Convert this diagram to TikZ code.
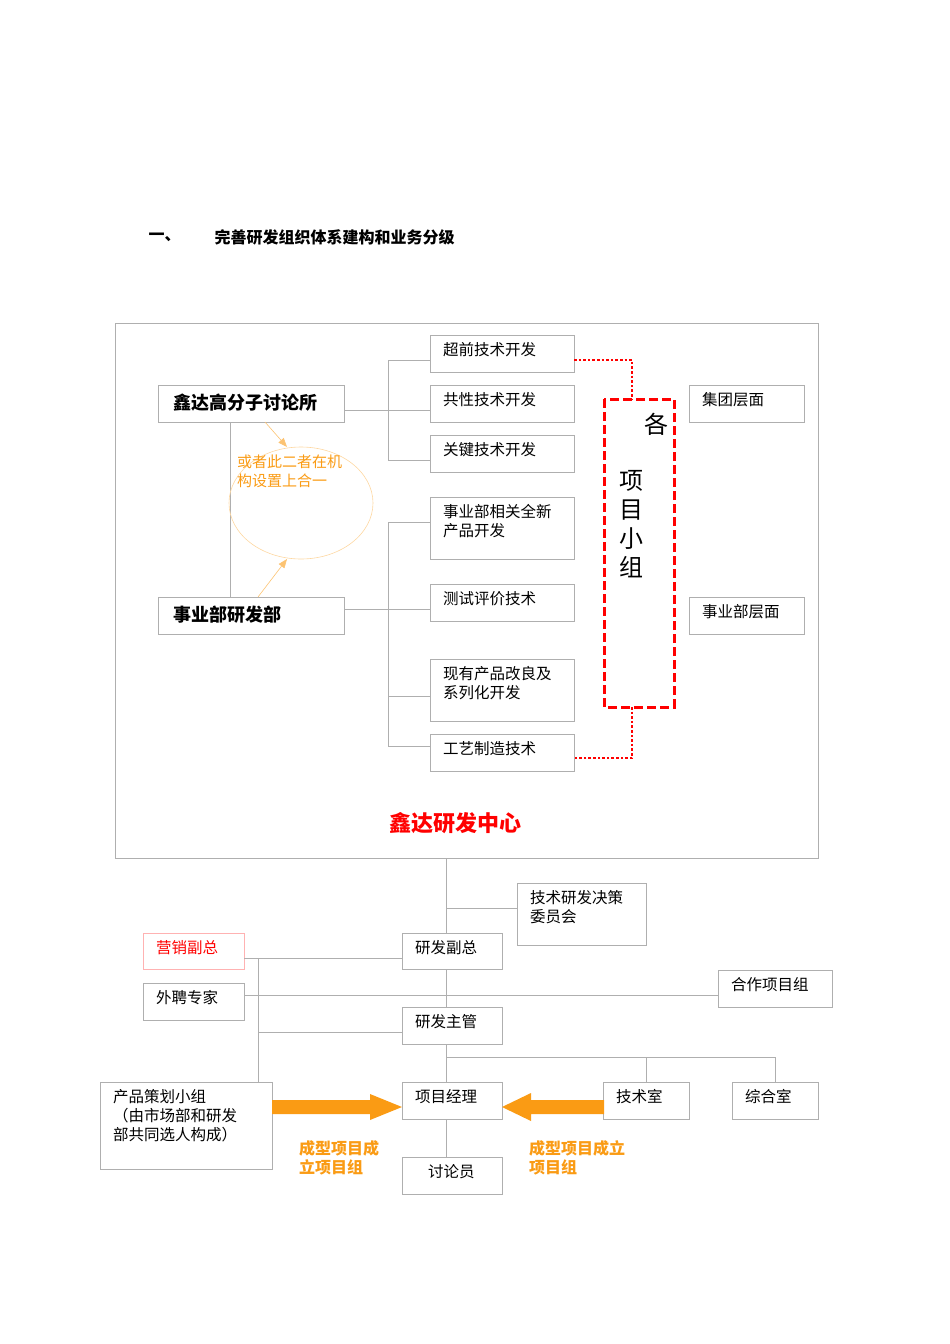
\documentclass[tikz,border=0pt]{standalone}
\usepackage{fontspec}
\setmainfont{Noto Sans CJK SC}
\usetikzlibrary{arrows.meta}
\definecolor{og}{RGB}{250,155,20}
\definecolor{ln}{RGB}{175,175,175}
\begin{document}
\begin{tikzpicture}[x=1pt,y=-1pt,
  bx/.style={draw=ln,line width=0.8pt,inner sep=0pt},
  tx/.style={anchor=north west,font=\fontsize{15.5}{19}\selectfont,align=left,inner sep=0pt},
  ln/.style={draw=ln,line width=0.7pt}]
\useasboundingbox (0,0) rectangle (950,1344);
\node[anchor=west,font=\fontsize{16}{19}\selectfont\bfseries] (t1) at (145,237) {一、};
\node[anchor=west,font=\fontsize{16}{19}\selectfont\bfseries] (t2) at (211,237) {完善研发组织体系建构和业务分级};
\draw[ln] (115,323) rectangle (818,858);
\newcommand\bb[6]{\draw[bx] (#2,#3) rectangle (#4,#5); \node[tx] (#1) at (#2+13,#3+7) {#6};}
\bb{a}{158}{385}{344}{422}{}
\node[anchor=west,font=\fontsize{18}{21}\selectfont\bfseries] (an) at (170,403) {鑫达高分子讨论所};
\bb{b}{158}{597}{344}{634}{}
\node[anchor=west,font=\fontsize{18}{21}\selectfont\bfseries] (bn) at (170,615) {事业部研发部};
\bb{c1}{430}{335}{574}{372}{超前技术开发}
\bb{c2}{430}{385}{574}{422}{共性技术开发}
\bb{c3}{430}{435}{574}{472}{关键技术开发}
\bb{d1}{430}{497}{574}{559}{事业部相关全新\\产品开发}
\bb{d2}{430}{584}{574}{621}{测试评价技术}
\bb{d3}{430}{659}{574}{721}{现有产品改良及\\系列化开发}
\bb{d4}{430}{734}{574}{771}{工艺制造技术}
\bb{e1}{689}{385}{804}{422}{集团层面}
\bb{e2}{689}{597}{804}{634}{事业部层面}
\draw[ln] (344,410)--(388,410) (388,360)--(388,460) (388,360)--(430,360) (388,410)--(430,410) (388,460)--(430,460);
\draw[ln] (344,609)--(430,609) (388,522)--(388,746) (388,522)--(430,522) (388,696)--(430,696) (388,746)--(430,746);
\draw[ln] (230,422)--(230,597);
\draw[og!40,line width=0.6pt] (301,503) ellipse (72 and 56);
\node[anchor=north west,text=og,font=\fontsize{15}{19}\selectfont,inner sep=0pt,align=left] (el) at (237,455) {或者此二者在机\\构设置上合一};
\draw[og!60,line width=0.6pt,-{Triangle[length=9pt,width=7pt]}] (265,422)--(287,447);
\draw[og!60,line width=0.6pt,-{Triangle[length=9pt,width=7pt]}] (258,597)--(287,559);
\draw[red,dash pattern=on 9pt off 4pt,line width=3pt] (604,399) rectangle (674,707);
\node[font=\fontsize{24}{28}\selectfont] (g1) at (656,424) {各};
\node[font=\fontsize{24}{29}\selectfont,align=center] (g2) at (631,524) {项\\目\\小\\组};
\draw[red,dotted,line width=2.6pt] (574,360)--(632,360)--(632,399);
\draw[red,dotted,line width=2.6pt] (632,707)--(632,758)--(574,758);
\node[text=red,font=\fontsize{22}{25}\selectfont\bfseries] (ttl) at (455,823) {鑫达研发中心};
% bottom
\bb{f1}{517}{883}{646}{945}{技术研发决策\\委员会}
\draw[bx,draw=red!30] (143,933) rectangle (244,969); \node[tx,text=red] (f2) at (156,940) {营销副总};
\bb{f3}{402}{933}{502}{969}{研发副总}
\bb{f4}{143}{983}{244}{1020}{外聘专家}
\bb{f5}{718}{970}{832}{1007}{合作项目组}
\bb{f6}{402}{1007}{502}{1044}{研发主管}
\bb{f7}{100}{1082}{272}{1169}{产品策划小组\\（由市场部和研发\\部共同选人构成）}
\bb{f8}{402}{1082}{502}{1119}{项目经理}
\bb{f9}{603}{1082}{689}{1119}{技术室}
\bb{f10}{732}{1082}{818}{1119}{综合室}
\bb{f11}{402}{1157}{502}{1194}{\hspace{13pt}讨论员}
\draw[ln] (446,858)--(446,933) (446,908)--(517,908) (446,969)--(446,1007) (446,1044)--(446,1082) (446,1119)--(446,1157);
\draw[ln] (244,958)--(402,958) (258,958)--(258,1082) (258,1032)--(402,1032) (244,995)--(718,995);
\draw[ln] (446,1057)--(775,1057) (646,1057)--(646,1082) (775,1057)--(775,1082);
\fill[og] (272,1100)--(370,1100)--(370,1094)--(402,1107)--(370,1120)--(370,1114)--(272,1114)--cycle;
\fill[og] (604,1100)--(531,1100)--(531,1093)--(502,1107)--(531,1121)--(531,1114)--(604,1114)--cycle;
\node[anchor=north west,text=og,font=\fontsize{16}{19}\selectfont\bfseries,align=left,inner sep=0pt] (o1) at (299,1140) {成型项目成\\立项目组};
\node[anchor=north west,text=og,font=\fontsize{16}{19}\selectfont\bfseries,align=left,inner sep=0pt] (o2) at (529,1140) {成型项目成立\\项目组};
\end{tikzpicture}
\end{document}
